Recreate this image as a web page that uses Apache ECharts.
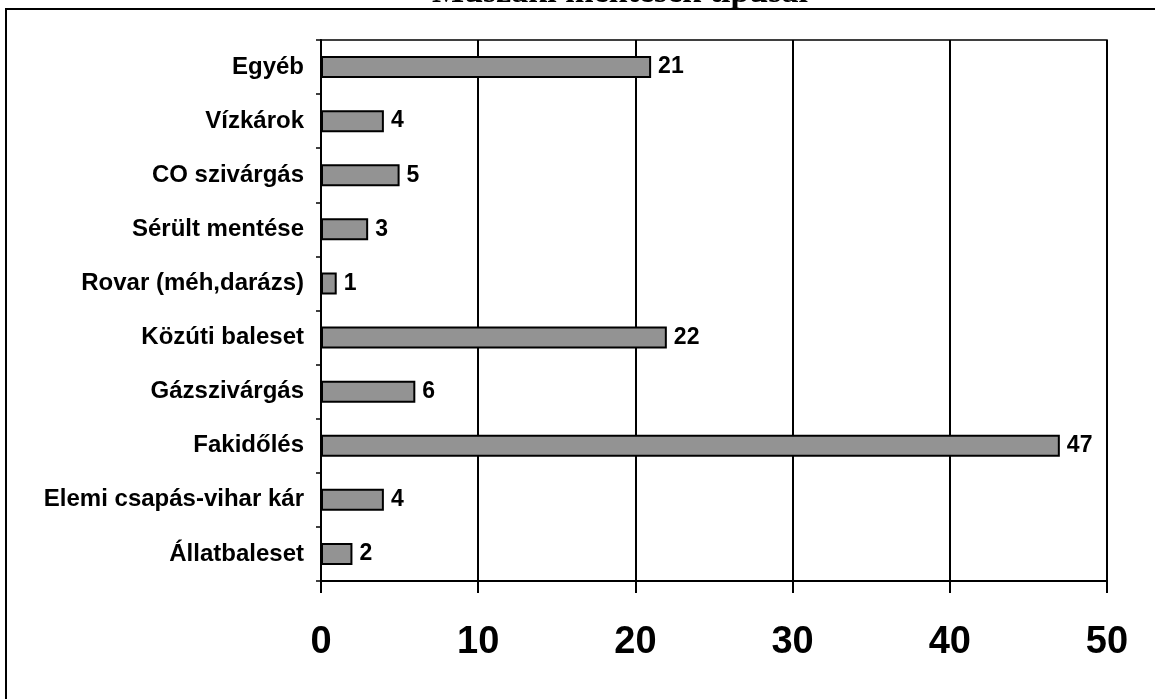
<!DOCTYPE html>
<html>
<head>
<meta charset="utf-8">
<script src="https://cdn.jsdelivr.net/npm/echarts@6/dist/echarts.min.js"></script>
<style>html,body{margin:0;padding:0;background:#fff}#c{width:1155px;height:699px}</style>
</head>
<body>
<div id="c"></div>
<script>
const titleText = 'Műszaki mentések típusai';
const categories = ['Állatbaleset','Elemi csapás-vihar kár','Fakidőlés','Gázszivárgás','Közúti baleset','Rovar (méh,darázs)','Sérült mentése','CO szivárgás','Vízkárok','Egyéb'];
const values = [2,4,47,6,22,1,3,5,4,21];
const xTicks = [0,10,20,30,40,50];

const chart = echarts.init(document.getElementById('c'));
chart.setOption({
  animation: false,
  backgroundColor: '#fff',
  title: {
    text: titleText, left: 615, textAlign: 'center', top: -29,
    textStyle: {fontFamily: 'Liberation Serif', fontWeight: 'bold', fontSize: 34, color: '#000'}
  },
  graphic: [{
    type: 'rect', shape: {x: 6, y: 9, width: 1200, height: 760},
    style: {fill: 'none', stroke: '#000', lineWidth: 2}, silent: true
  }],
  grid: {left: 321, right: 48, top: 40, bottom: 118, show: true, borderColor: '#000', borderWidth: 1.5},
  xAxis: {
    type: 'value', min: xTicks[0], max: xTicks[xTicks.length-1], interval: 10,
    axisLine: {show: true, lineStyle: {color: '#000', width: 2}},
    axisTick: {show: true, length: 12, lineStyle: {color: '#000', width: 2}},
    splitLine: {show: true, lineStyle: {color: '#000', width: 2}},
    axisLabel: {margin: 43, fontFamily: 'Liberation Sans', fontWeight: 'bold', fontSize: 38, color: '#000'}
  },
  yAxis: {
    type: 'category', data: categories,
    axisLine: {show: true, lineStyle: {color: '#000', width: 2}},
    axisTick: {show: true, length: 5, lineStyle: {color: '#000', width: 1.5}},
    axisLabel: {margin: 17, fontFamily: 'Liberation Sans', fontWeight: 'bold', fontSize: 24, color: '#000'}
  },
  series: [{
    type: 'bar', data: values, barWidth: 22,
    itemStyle: {color: '#939393', borderColor: '#000', borderWidth: 2},
    label: {show: true, position: 'right', distance: 7, fontFamily: 'Liberation Sans', fontWeight: 'bold', fontSize: 23, color: '#000'}
  }]
});
</script>
</body>
</html>
